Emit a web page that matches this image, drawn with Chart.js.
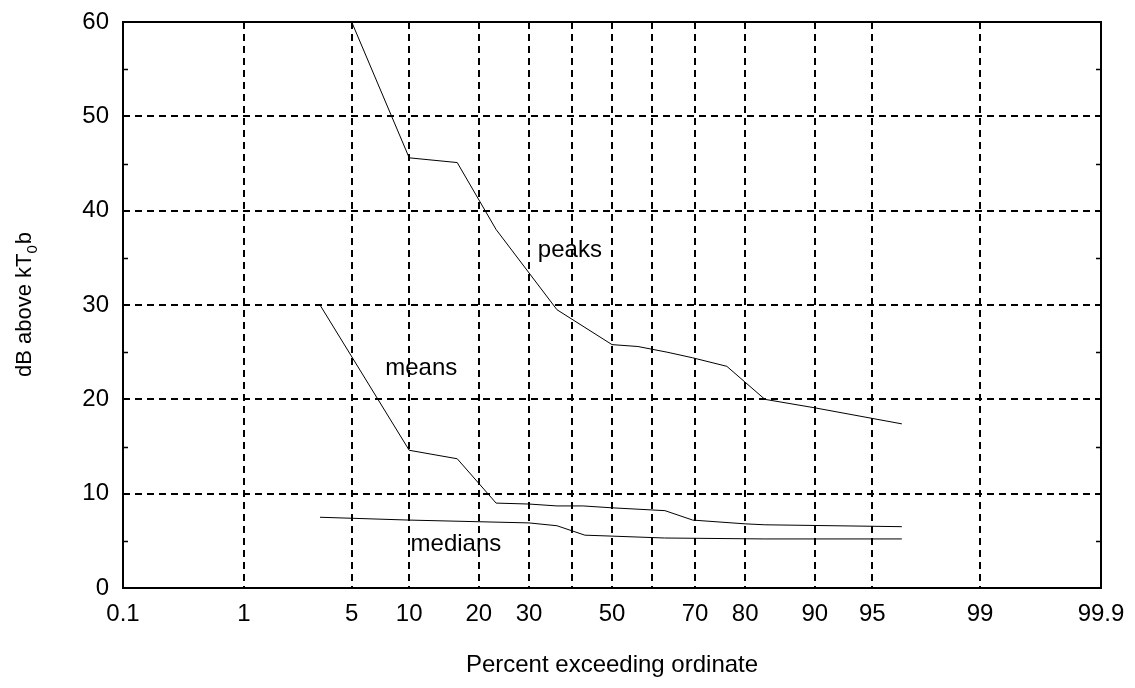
<!DOCTYPE html>
<html>
<head>
<meta charset="utf-8">
<script src="https://cdn.jsdelivr.net/npm/chart.js@4"></script>
<style>
  html, body { margin: 0; padding: 0; background: #fff; }
  #wrap { width: 1135px; height: 688px; }
</style>
</head>
<body>
<div id="wrap"><canvas id="chart" width="1135" height="688"></canvas></div>
<script>
// percent exceeding ordinate (probability axis) and dB values
const peaksX = [5, 10, 16.4, 23.2, 36.4, 50, 56.5, 63.6, 69.5, 76.6, 83.3, 90, 96.65];
const peaksY = [60, 45.6, 45.1, 38.0, 29.5, 25.8, 25.6, 25.0, 24.4, 23.5, 20.0, 19.1, 17.4];

const meansX = [3.25, 10, 16.4, 23.2, 30, 36.4, 42.7, 50, 63.1, 69.5, 80, 83.3, 96.65];
const meansY = [30.0, 14.6, 13.7, 9.0, 8.9, 8.7, 8.7, 8.5, 8.2, 7.2, 6.8, 6.7, 6.5];

const mediansX = [3.25, 10, 30, 36.4, 43.2, 50, 63, 83.3, 96.65];
const mediansY = [7.5, 7.2, 6.9, 6.6, 5.6, 5.5, 5.3, 5.2, 5.2];

const xTickPercents = [0.1, 1, 5, 10, 20, 30, 40, 50, 60, 70, 80, 90, 95, 99, 99.9];
const xTickLabels = ["0.1", "1", "5", "10", "20", "30", "", "50", "", "70", "80", "90", "95", "99", "99.9"];
const yTicks = [0, 10, 20, 30, 40, 50, 60];
const yMinorTicks = [5, 15, 25, 35, 45, 55];

const curveLabels = [
  { text: "peaks", x: 39.5, y: 35.8 },
  { text: "means", x: 11.4, y: 23.3 },
  { text: "medians", x: 16.2, y: 4.6 },
];

const FONT = "'Liberation Sans', Arial, sans-serif";

// inverse normal CDF (Acklam), percent -> z
function probit(pct) {
  const p = pct / 100;
  const a = [-3.969683028665376e+01, 2.209460984245205e+02, -2.759285104469687e+02, 1.383577518672690e+02, -3.066479806614716e+01, 2.506628277459239e+00];
  const b = [-5.447609879822406e+01, 1.615858368580409e+02, -1.556989798598866e+02, 6.680131188771972e+01, -1.328068155288572e+01];
  const c = [-7.784894002430293e-03, -3.223964580411365e-01, -2.400758277161838e+00, -2.549732539343734e+00, 4.374664141464968e+00, 2.938163982698783e+00];
  const d = [7.784695709041462e-03, 3.224671290700398e-01, 2.445134137142996e+00, 3.754408661907416e+00];
  const pl = 0.02425;
  let q, r;
  if (p < pl) {
    q = Math.sqrt(-2 * Math.log(p));
    return (((((c[0]*q+c[1])*q+c[2])*q+c[3])*q+c[4])*q+c[5]) / ((((d[0]*q+d[1])*q+d[2])*q+d[3])*q+1);
  }
  if (p > 1 - pl) {
    q = Math.sqrt(-2 * Math.log(1 - p));
    return -(((((c[0]*q+c[1])*q+c[2])*q+c[3])*q+c[4])*q+c[5]) / ((((d[0]*q+d[1])*q+d[2])*q+d[3])*q+1);
  }
  q = p - 0.5;
  r = q * q;
  return (((((a[0]*r+a[1])*r+a[2])*r+a[3])*r+a[4])*r+a[5])*q / (((((b[0]*r+b[1])*r+b[2])*r+b[3])*r+b[4])*r+1);
}

function toPoints(xs, ys) {
  return xs.map((p, i) => ({ x: probit(p), y: ys[i] }));
}

function lineSet(label, xs, ys) {
  return {
    label,
    data: toPoints(xs, ys),
    borderColor: "#000",
    borderWidth: 1,
    pointRadius: 0,
    tension: 0,
    fill: false,
  };
}

const decorations = {
  id: "decorations",
  afterDraw(chart) {
    const { ctx, chartArea: area, scales } = chart;
    const x = scales.x, y = scales.y;
    ctx.save();

    // frame
    ctx.strokeStyle = "#000";
    ctx.lineWidth = 2;
    ctx.setLineDash([]);
    ctx.strokeRect(area.left, area.top, area.right - area.left, area.bottom - area.top);

    // minor ticks on left and right edges
    ctx.lineWidth = 1.5;
    yMinorTicks.forEach(v => {
      const py = Math.round(y.getPixelForValue(v)) + 0.5;
      ctx.beginPath();
      ctx.moveTo(area.left, py);
      ctx.lineTo(area.left + 5, py);
      ctx.moveTo(area.right, py);
      ctx.lineTo(area.right - 5, py);
      ctx.stroke();
    });

    // curve labels
    ctx.fillStyle = "#000";
    ctx.font = `24px ${FONT}`;
    ctx.textAlign = "center";
    ctx.textBaseline = "middle";
    curveLabels.forEach(l => {
      ctx.fillText(l.text, x.getPixelForValue(probit(l.x)), y.getPixelForValue(l.y));
    });

    // x axis title
    ctx.font = `24px ${FONT}`;
    ctx.textBaseline = "alphabetic";
    ctx.fillText("Percent exceeding ordinate", (area.left + area.right) / 2, 672);

    // y axis title with subscript
    ctx.translate(31, (area.top + area.bottom) / 2);
    ctx.rotate(-Math.PI / 2);
    const main = "dB above kT", sub = "0", tail = "b";
    ctx.font = `22px ${FONT}`;
    const w1 = ctx.measureText(main).width;
    const w3 = ctx.measureText(tail).width;
    ctx.font = `15px ${FONT}`;
    const w2 = ctx.measureText(sub).width;
    let start = -(w1 + w2 + w3) / 2;
    ctx.textAlign = "left";
    ctx.font = `22px ${FONT}`;
    ctx.fillText(main, start, 0);
    ctx.font = `15px ${FONT}`;
    ctx.fillText(sub, start + w1, 6);
    ctx.font = `22px ${FONT}`;
    ctx.fillText(tail, start + w1 + w2 + 1, 0);

    ctx.restore();
  },
};

new Chart(document.getElementById("chart"), {
  type: "line",
  data: {
    datasets: [
      lineSet("peaks", peaksX, peaksY),
      lineSet("means", meansX, meansY),
      lineSet("medians", mediansX, mediansY),
    ],
  },
  options: {
    responsive: false,
    animation: false,
    layout: { padding: { top: 22, right: 34, left: 0, bottom: 0 } },
    plugins: {
      legend: { display: false },
      tooltip: { enabled: false },
    },
    scales: {
      x: {
        type: "linear",
        min: probit(0.1),
        max: probit(99.9),
        afterBuildTicks: scale => {
          scale.ticks = xTickPercents.map(p => ({ value: probit(p) }));
        },
        afterFit: scale => {
          scale.height = 100;
          scale.paddingLeft = 0;
          scale.paddingRight = 0;
        },
        ticks: {
          autoSkip: false,
          maxRotation: 0,
          color: "#000",
          padding: 12,
          font: { family: FONT, size: 24 },
          callback: (value, index) => xTickLabels[index],
        },
        grid: { color: "#000", lineWidth: 2, drawTicks: false },
        border: { display: false, dash: [7, 5] },
      },
      y: {
        min: 0,
        max: 60,
        afterBuildTicks: scale => {
          scale.ticks = yTicks.map(v => ({ value: v }));
        },
        afterFit: scale => {
          scale.width = 123;
          scale.paddingTop = 0;
          scale.paddingBottom = 0;
        },
        ticks: {
          color: "#000",
          padding: 14,
          font: { family: FONT, size: 24 },
        },
        grid: { color: "#000", lineWidth: 2, drawTicks: false },
        border: { display: false, dash: [7, 5] },
      },
    },
  },
  plugins: [decorations],
});
</script>
</body>
</html>
